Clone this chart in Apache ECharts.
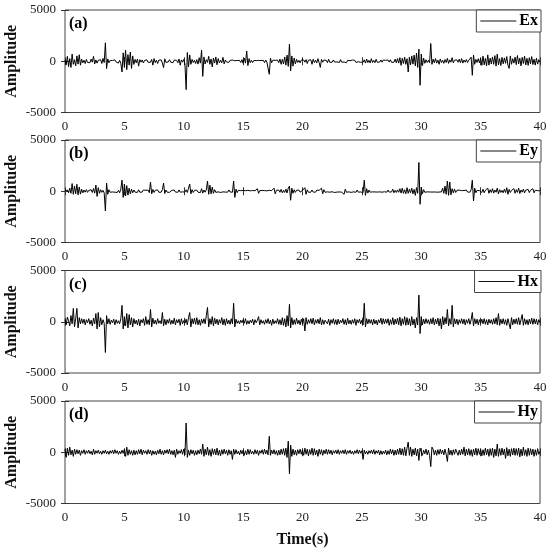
<!DOCTYPE html>
<html>
<head>
<meta charset="utf-8">
<script src="https://cdn.jsdelivr.net/npm/echarts@6/dist/echarts.min.js"></script>
<style>html,body{margin:0;padding:0;background:#fff;}#chart{width:550px;height:551px;}</style>
</head>
<body>
<div id="chart"></div>
<script>
// sample interval (s) of the recorded traces
const sampleStep = 0.1;
const xTicks = [0, 5, 10, 15, 20, 25, 30, 35, 40];
const yTicks = [-5000, 0, 5000];
const seriesNames = ['Ex', 'Ey', 'Hx', 'Hy'];
const panelLabels = ['(a)', '(b)', '(c)', '(d)'];

const ex = [
120,-350,480,-520,260,-610,700,-300,150,-450,
520,-280,640,-380,200,-150,90,-220,180,-120,
60,-140,210,-90,480,-260,130,-180,90,-60,
150,-220,280,-130,1800,-720,230,-150,80,-110,
70,-90,140,-60,110,-180,90,-200,-1050,820,
-600,1080,-820,650,-380,900,-700,520,-310,180,
-150,220,-480,160,-90,130,-170,80,-60,140,
-110,60,-90,170,-380,260,-140,90,-220,110,
-70,130,-180,-620,240,-110,80,-60,150,-90,
70,-130,110,-60,90,-140,220,-380,130,-90,
180,-260,-2770,850,-540,620,-300,180,-120,90,
-220,160,-280,340,-180,1080,-1470,420,-260,150,
-110,480,-300,220,-560,310,-180,420,-350,260,
-140,90,-160,380,-250,120,-80,60,-110,90,
-60,110,-80,50,-90,70,-40,80,-120,160,
-200,300,-180,1000,-420,260,-150,90,-130,70,
-90,60,-50,80,-110,70,-60,90,-140,120,
-80,60,-1270,300,-150,100,-70,90,-60,110,
-140,220,-300,180,-260,420,-380,600,-500,1670,
-950,520,-480,310,-250,180,-120,90,-160,110,
-70,130,-90,160,-220,110,-80,140,-300,200,
-120,90,-160,250,-130,-600,180,-90,120,-70,
90,-140,200,-110,60,-90,130,-80,50,-60,
80,-120,160,-90,60,-70,110,-150,90,-60,
50,-80,120,-60,90,-110,70,-50,80,-100,
60,-90,140,-180,220,-130,90,-160,250,-120,
80,-140,190,-100,60,-80,130,-90,110,-70,
90,-60,120,-80,150,-110,70,-90,200,-150,
260,-180,350,-400,280,-220,400,-300,250,-1050,
400,-350,520,-280,600,-450,800,-600,1180,-2350,
700,-420,300,-200,150,-120,90,-150,1730,-300,
200,-150,260,-180,120,-300,220,-140,90,-200,
160,-120,280,-210,140,-90,350,-160,110,-80,
130,-100,200,-150,260,-180,120,-90,160,-130,
90,-60,400,-1370,600,-300,180,-120,250,-160,
300,-400,500,-350,280,-450,620,-380,300,-260,
420,-300,550,-480,700,-350,260,-420,380,-250,
330,-200,460,-380,-700,520,-300,250,-180,400,
-330,560,-260,300,-450,380,-220,500,-360,280,
-400,350,-250,460,-320,200,-380,300,-280,150,
-100];

const ey = [
60,-80,120,-150,300,-200,750,-300,500,-250,
680,-350,420,-280,200,-160,120,-90,150,-110,
90,-70,140,-120,260,-180,600,-500,350,-200,
150,-110,90,-160,-1930,800,-300,150,-100,80,
-70,110,-90,60,-120,90,-150,200,1080,-600,
700,-450,550,-380,300,-250,200,-150,120,-90,
80,-110,140,-100,60,-80,120,-70,90,-60,
110,-140,900,-260,180,-120,90,-70,130,-100,
80,-90,150,800,-220,120,-90,70,-110,60,
90,-70,120,-80,60,-100,130,-90,70,-60,
100,-80,140,-120,300,700,-250,160,-120,90,
-70,110,-90,60,-130,250,-180,120,-90,140,
1000,-300,600,-250,400,-200,150,-110,80,-60,
90,-120,70,-60,110,-80,60,-90,130,-70,
80,-100,1000,-600,200,-130,90,-70,60,-50,
70,-60,50,-80,90,-60,40,-50,70,-60,
50,-70,250,-200,60,-40,80,-50,60,-70,
40,-60,90,-80,60,-50,300,-250,90,-60,
120,-100,180,-150,90,-120,200,-160,300,500,
-880,300,-200,150,-110,90,-70,120,-90,60,
80,-110,350,-300,140,-100,70,-90,120,-80,
60,-90,110,-70,90,-60,300,-250,150,-100,
80,-60,120,-90,70,-50,90,-120,60,-80,
110,-70,60,-90,80,-300,200,-100,70,-60,
90,-110,70,-60,80,-100,120,-90,60,-70,
80,-130,1080,-400,250,-180,120,-90,70,-60,
90,-70,60,-80,110,-60,80,-90,60,-50,
70,-90,120,-80,60,-70,200,-150,90,-120,
130,-100,250,-180,300,-200,150,-250,350,-200,
200,-150,300,-250,180,-400,350,-200,2810,-1270,
400,-250,150,-100,80,-60,90,-70,60,-80,
100,-70,120,-90,60,-80,90,-60,300,-200,
500,-300,1000,-400,900,-350,250,-150,200,-120,
90,-70,110,-80,60,-90,70,-60,120,-80,
100,-90,150,1080,-950,300,-150,90,-70,60,
80,-120,200,-150,100,-80,300,-200,150,-120,
250,-180,120,-90,300,-250,160,-120,90,-150,
200,-130,350,-300,180,-120,90,-70,260,-200,
150,-110,300,-220,120,-90,200,-160,110,-80,
180,-130,90,-70,250,-150,100,-80,60,-50,
40];

const hx = [
200,-300,450,100,-400,600,-200,1300,-500,300,
1300,-600,400,-200,300,-150,250,-300,200,-100,
300,-250,150,-400,350,-200,800,-700,900,-500,
400,-300,200,-150,-3000,600,-200,300,-250,150,
-100,250,-300,200,-150,100,-200,300,1600,-700,
500,-400,800,-600,700,-300,400,-500,300,-200,
150,-300,250,-400,200,-100,300,-350,500,-250,
200,-300,1200,-500,350,-200,150,-250,300,-150,
100,-200,900,-400,250,-300,200,-150,300,-250,
150,-200,350,-300,200,-100,250,-350,300,-200,
100,-150,250,-300,400,900,-500,300,-200,350,
-250,400,-300,200,-350,250,-150,300,-200,600,
1400,-500,300,-250,500,-400,350,-200,250,-300,
200,-150,400,-300,250,-350,300,-200,150,-250,
300,-200,1800,-500,250,-150,100,-200,150,-100,
200,-150,300,-250,100,-200,150,-100,250,-300,
200,-100,150,500,-300,200,-150,100,-250,200,
-150,300,-200,150,-350,250,-200,100,-150,300,
-250,200,-300,400,-350,300,-500,600,-400,1700,
-600,400,-300,200,-250,350,-200,150,-300,250,
-200,300,-900,400,-250,200,-150,300,-200,350,
-300,200,-150,250,-200,400,-300,200,-250,150,
300,-200,250,-350,200,-150,300,-250,200,-300,
250,-200,150,-100,300,-250,200,-300,350,-200,
150,-250,200,-150,300,-350,200,-100,250,-200,
150,-300,1800,-500,300,-200,250,-150,200,-300,
250,-200,150,-300,200,-100,350,-250,300,-200,
250,-150,300,-350,200,-250,400,-300,250,-200,
350,-300,450,-400,300,-250,500,-350,400,-300,
300,-400,500,-300,250,-600,400,-300,2600,-1150,
500,-300,250,-200,300,-150,200,-250,300,-200,
400,-300,250,-200,350,-400,300,-700,500,-300,
400,-200,1200,-400,300,-250,1600,-500,300,-200,
250,-300,200,-150,300,-200,250,-300,200,-150,
300,-250,200,900,-400,300,-200,250,-300,200,
-150,250,-200,300,-250,200,-300,250,-150,200,
-250,300,-200,400,-300,800,-350,250,-200,300,
-250,200,-350,300,-200,-700,400,-300,250,-200,
300,-250,400,-300,200,700,-350,300,-250,200,
-300,250,-200,350,-250,300,-200,250,-300,200,
-100];

const hy = [
300,-500,400,-300,500,-250,200,-400,300,-200,
250,-150,200,-300,150,-100,250,-200,150,-100,
200,-150,100,-250,300,-200,150,-100,200,-150,
100,-200,150,-100,200,-150,100,-200,150,-100,
200,-150,250,-100,150,-200,100,-150,200,-100,
300,-400,500,-300,250,-200,150,-300,200,-250,
150,-200,250,-150,300,-250,200,-100,150,-200,
250,-150,200,-300,150,-200,100,-250,200,-150,
300,-200,150,-250,200,-100,250,-150,300,-200,
150,-250,200,-500,300,-200,150,-100,250,-200,
300,-250,2850,-500,200,-300,250,-150,200,-300,
150,-250,200,-150,300,-200,800,-400,300,-250,
500,-300,250,-400,350,-200,300,-250,400,-300,
200,-350,250,-200,300,-150,200,-300,250,-200,
150,-700,300,-200,250,-150,100,-250,200,-150,
200,-300,150,-250,300,-200,250,-150,100,-200,
250,-150,200,-300,150,-100,250,-200,300,-150,
200,-250,1550,-300,200,-150,250,-200,150,-300,
200,-250,300,-200,350,-300,400,-500,1080,-2100,
700,-400,300,-250,200,-300,250,-150,300,-200,
250,-300,400,-200,300,-350,250,-200,400,-300,
350,-250,200,-400,300,-200,250,-300,200,-150,
300,-200,250,-150,200,-250,150,-100,200,-150,
250,-200,150,-100,200,-150,250,-200,150,-100,
200,-150,100,-200,150,-100,250,-150,200,-100,
150,-700,200,-150,100,-200,150,-100,200,-150,
250,-200,150,-100,200,-250,150,-200,100,-150,
200,-250,150,-200,300,-150,250,-300,200,-250,
300,-200,400,-250,350,-300,500,-350,400,1000,
-300,500,-400,300,-250,400,-350,300,-800,400,
250,-300,200,-150,300,-250,200,-300,-1400,500,
300,-250,200,-300,250,-200,300,-150,200,-250,
300,-200,-900,400,-250,200,-300,250,-200,300,
250,-300,200,-250,300,-200,500,-350,300,-250,
350,-300,250,-400,300,-250,400,-300,350,-200,
300,-350,250,-300,400,-250,300,-400,350,-300,
400,-500,300,-350,800,-400,350,-300,400,-250,
300,-600,450,-350,300,-400,350,-250,400,-300,
350,-300,400,-450,300,-350,500,-300,250,-400,
400,-300,350,-250,300,-400,250,-300,350,-200,
100];

const traces = [ex, ey, hx, hy];

const FONT = '"Liberation Serif", "Times New Roman", serif';
const tops = [10, 140, 270.5, 401];
const panelH = 102.5;
const GRID_L = 65, GRID_W = 475;

const grids = [], xAxes = [], yAxes = [], series = [], legends = [], titles = [];
const tickStyle = { show: true, inside: true, length: 4, lineStyle: { color: '#333', width: 1 } };

for (let i = 0; i < 4; i++) {
  grids.push({ left: GRID_L, width: GRID_W, top: tops[i], height: panelH, show: true,
    containLabel: false, outerBoundsMode: 'none',
    borderColor: '#444', borderWidth: 1, backgroundColor: '#fff' });
}
for (let i = 0; i < 4; i++) {
  xAxes.push({
    type: 'value', gridIndex: i, min: xTicks[0], max: xTicks[xTicks.length - 1],
    interval: xTicks[1] - xTicks[0], position: 'bottom',
    axisLine: { show: false }, axisTick: tickStyle, splitLine: { show: false },
    axisLabel: { fontFamily: FONT, fontSize: 13, color: '#222', margin: 8, showMinLabel: true, showMaxLabel: true,
      formatter: v => String(v) },
    name: i === 3 ? 'Time(s)' : '', nameLocation: 'middle', nameGap: 28, nameMoveOverlap: false,
    nameTextStyle: { fontFamily: FONT, fontSize: 16, fontWeight: 'bold', color: '#111' }
  });
}
for (let i = 0; i < 4; i++) {
  xAxes.push({
    type: 'value', gridIndex: i, min: xTicks[0], max: xTicks[xTicks.length - 1],
    interval: xTicks[1] - xTicks[0], position: 'top',
    axisLine: { show: false }, axisTick: tickStyle, splitLine: { show: false },
    axisLabel: { show: false }
  });
}
for (let i = 0; i < 4; i++) {
  yAxes.push({
    type: 'value', gridIndex: i, min: yTicks[0], max: yTicks[yTicks.length - 1],
    interval: yTicks[1] - yTicks[0], position: 'left',
    axisLine: { show: false }, axisTick: tickStyle, splitLine: { show: false },
    axisLabel: { fontFamily: FONT, fontSize: 13, color: '#222', margin: 9, formatter: v => String(v) },
    name: 'Amplitude', nameLocation: 'middle', nameGap: 45, nameRotate: 90, nameMoveOverlap: false,
    nameTextStyle: { fontFamily: FONT, fontSize: 16, fontWeight: 'bold', color: '#111' }
  });
}
for (let i = 0; i < 4; i++) {
  yAxes.push({
    type: 'value', gridIndex: i, min: yTicks[0], max: yTicks[yTicks.length - 1],
    interval: yTicks[1] - yTicks[0], position: 'right',
    axisLine: { show: false }, axisTick: tickStyle, splitLine: { show: false },
    axisLabel: { show: false }
  });
}
for (let i = 0; i < 4; i++) {
  const vals = traces[i];
  series.push({
    name: seriesNames[i], type: 'line', xAxisIndex: i, yAxisIndex: i,
    data: vals.map((v, k) => [k * sampleStep, v]),
    symbol: 'none', showSymbol: false, sampling: false,
    lineStyle: { color: '#000', width: 1 }, itemStyle: { color: '#000' },
    animation: false
  });
  legends.push({
    data: [seriesNames[i]], right: 9, top: tops[i], orient: 'horizontal',
    icon: 'rect', itemWidth: 36, itemHeight: 1, itemGap: 3,
    itemStyle: { color: '#111' },
    borderColor: '#444', borderWidth: 1, borderRadius: 0, padding: [3, 3, 3, 4],
    backgroundColor: '#fff',
    textStyle: { fontFamily: FONT, fontSize: 16, fontWeight: 'bold', color: '#000', padding: [0, 0, 0, -2] },
    selectedMode: false
  });
  titles.push({
    text: panelLabels[i], left: 69, top: tops[i] + 6, padding: 0,
    textStyle: { fontFamily: FONT, fontSize: 16, fontWeight: 'bold', color: '#000' }
  });
}

const chart = echarts.init(document.getElementById('chart'), null, { renderer: 'canvas' });
chart.setOption({
  backgroundColor: '#fff',
  animation: false,
  title: titles,
  legend: legends,
  grid: grids,
  xAxis: xAxes,
  yAxis: yAxes,
  series: series
});
</script>
</body>
</html>
